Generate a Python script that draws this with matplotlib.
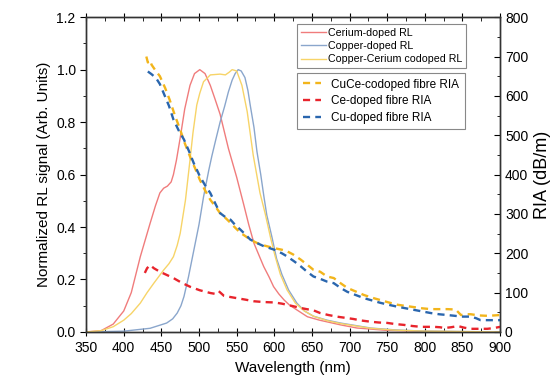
import matplotlib
matplotlib.use("Agg")
import matplotlib.pyplot as plt
from matplotlib.ticker import MultipleLocator

plt.rcParams['font.family'] = ['Liberation Sans', 'DejaVu Sans']

# ---- RL spectra (normalized) ----
ce_rl_wl = [350, 370, 386, 400, 410, 422, 435, 442, 448, 453, 458, 463, 466, 470, 475, 481, 488,
            494, 501, 508, 515, 521, 528, 539, 550, 559, 566, 573, 580, 586, 593, 599, 606,
            613, 620, 630, 644, 660, 688, 710, 750, 800, 900]
ce_rl = [0.0, 0.005, 0.03, 0.08, 0.15, 0.287, 0.414, 0.48, 0.53, 0.548, 0.556, 0.572, 0.6, 0.655, 0.74, 0.85, 0.94,
         0.985, 1.0, 0.985, 0.94, 0.89, 0.83, 0.70, 0.59, 0.49, 0.41, 0.338, 0.29, 0.249, 0.21, 0.173, 0.145,
         0.122, 0.103, 0.084, 0.058, 0.045, 0.027, 0.015, 0.006, 0.002, 0.0]

cu_rl_wl = [350, 400, 435, 457, 465, 471, 476, 480, 486, 493, 500, 506, 513, 517, 522, 528, 534,
            539, 544, 548, 552, 556, 561, 565, 568, 573, 577, 582, 586, 590, 597, 603, 610, 619,
            630, 640, 652, 670, 688, 728, 760, 800, 900]
cu_rl = [0.0, 0.003, 0.014, 0.034, 0.05, 0.072, 0.1, 0.135, 0.21, 0.31, 0.41, 0.515, 0.617, 0.67, 0.73, 0.80, 0.86,
         0.915, 0.96, 0.985, 1.0, 0.995, 0.97, 0.92, 0.865, 0.78, 0.687, 0.6, 0.52, 0.446, 0.36, 0.28, 0.22, 0.16,
         0.11, 0.08, 0.06, 0.045, 0.034, 0.015, 0.008, 0.003, 0.0]

cuce_rl_wl = [350, 370, 386, 400, 410, 422, 431, 440, 453, 460, 466, 471, 475, 482, 488, 492,
              497, 501, 506, 515, 528, 535, 540, 544, 550, 557, 564, 572, 581, 588, 595, 601,
              608, 617, 628, 640, 652, 670, 688, 728, 760, 800, 900]
cuce_rl = [0.0, 0.005, 0.02, 0.045, 0.07, 0.11, 0.15, 0.186, 0.236, 0.26, 0.287, 0.33, 0.376, 0.503, 0.655, 0.76,
           0.865, 0.91, 0.954, 0.98, 0.983, 0.98, 0.99, 1.0, 0.995, 0.94, 0.84, 0.674, 0.53, 0.45, 0.36, 0.29,
           0.22, 0.16, 0.11, 0.08, 0.06, 0.043, 0.032, 0.014, 0.007, 0.003, 0.0]

# ---- RIA spectra (dB/m) ----
cuce_ria_wl = [430, 432, 435, 437, 442, 448, 455, 461, 468, 475, 481, 488, 495, 501, 508, 515, 522,
               528, 535, 542, 548, 555, 562, 568, 575, 582, 590, 600, 610, 617, 625, 635, 643, 652,
               661, 670, 679, 688, 697, 708, 719, 730, 741, 752, 764, 775, 786, 797, 808, 819, 830,
               841, 848, 855, 861, 872, 883, 892, 900]
cuce_ria = [700, 685, 690, 679, 665, 650, 620, 590, 550, 514, 480, 446, 415, 387, 360, 336, 318,
            302, 290, 277, 265, 252, 243, 235, 228, 222, 218, 213, 209, 205, 197, 184, 172, 158,
            153, 141, 137, 124, 112, 103, 94, 87, 81, 75, 69, 66, 63, 60, 58, 58, 58,
            57, 43, 45, 45, 42, 41, 42, 43]

ce_ria_wl = [428, 431, 435, 440, 448, 457, 466, 477, 488, 501, 515, 521, 526, 533, 541, 550,
             562, 573, 586, 600, 610, 617, 626, 635, 643, 652, 661, 672, 683, 694, 705, 716, 728,
             739, 750, 761, 772, 784, 795, 803, 812, 820, 826, 835, 844, 852, 861, 872, 883, 892, 900]
ce_ria = [150, 162, 170, 162, 153, 145, 137, 125, 115, 106, 99, 97, 104, 92, 89, 86,
          82, 78, 76, 75, 72, 69, 65, 61, 58, 55, 48, 43, 39, 36, 33, 29, 26,
          24, 23, 20, 18, 15, 13, 13, 13, 12, 10, 12, 15, 11, 8, 8, 8, 10, 13]

cu_ria_wl = [432, 437, 443, 448, 453, 460, 466, 473, 480, 487, 493, 501, 508, 515, 522, 528, 535,
             542, 548, 555, 562, 568, 577, 586, 600, 610, 617, 626, 635, 643, 652, 661, 670, 679,
             688, 697, 708, 719, 730, 741, 752, 764, 775, 786, 797, 808, 819, 830, 840, 848, 861,
             868, 874, 885, 900]
cu_ria = [662, 655, 645, 630, 607, 575, 540, 512, 489, 458, 429, 396, 373, 353, 325, 302, 292,
          285, 272, 260, 247, 235, 226, 218, 209, 200, 192, 180, 167, 154, 141, 135, 128, 124,
          112, 102, 94, 86, 80, 74, 69, 64, 60, 56, 52, 48, 45, 43, 41, 39, 39,
          35, 30, 30, 30]

fig = plt.figure(figsize=(5.52, 3.82), dpi=100)
ax = fig.add_axes([0.156, 0.131, 0.750, 0.824])
ax2 = ax.twinx()

l1, = ax.plot(ce_rl_wl, ce_rl, color='#f07c7c', lw=1.0, label='Cerium-doped RL')
l2, = ax.plot(cu_rl_wl, cu_rl, color='#8aa6cc', lw=1.0, label='Copper-doped RL')
l3, = ax.plot(cuce_rl_wl, cuce_rl, color='#f7d468', lw=1.0, label='Copper-Cerium codoped RL')

dash = (3, 2.2)
d1, = ax2.plot(cuce_ria_wl, cuce_ria, color='#f2b51c', lw=1.7, dashes=dash,
               label='CuCe-codoped fibre RIA')
d2, = ax2.plot(ce_ria_wl, ce_ria, color='#e8242c', lw=1.7, dashes=dash,
               label='Ce-doped fibre RIA')
d3, = ax2.plot(cu_ria_wl, cu_ria, color='#2a66ae', lw=1.7, dashes=dash,
               label='Cu-doped fibre RIA')

ax.set_xlim(350, 900)
ax.set_ylim(0, 1.2)
ax2.set_ylim(0, 800)

ax.xaxis.set_major_locator(MultipleLocator(50))
ax.xaxis.set_minor_locator(MultipleLocator(25))
ax.yaxis.set_major_locator(MultipleLocator(0.2))
ax.yaxis.set_minor_locator(MultipleLocator(0.1))
ax.yaxis.set_major_formatter(plt.FormatStrFormatter('%.1f'))
ax2.yaxis.set_major_locator(MultipleLocator(100))
ax2.yaxis.set_minor_locator(MultipleLocator(50))

ax.tick_params(axis='x', which='major', direction='inout', length=6, top=True, labelsize=10)
ax.tick_params(axis='x', which='minor', direction='in', length=3, top=True)
ax.tick_params(axis='y', which='major', direction='out', length=4, labelsize=10)
ax.tick_params(axis='y', which='minor', direction='out', length=2.5)
ax2.tick_params(axis='y', which='major', direction='in', length=4, labelsize=10)
ax2.tick_params(axis='y', which='minor', direction='in', length=2.5)

for a in (ax, ax2):
    for s in a.spines.values():
        s.set_color('#333333')
        s.set_linewidth(1.0)

ax.set_xlabel('Wavelength (nm)', fontsize=11)
ax.set_ylabel('Normalized RL signal (Arb. Units)', fontsize=11)
ax2.set_ylabel('RIA (dB/m)', fontsize=13, labelpad=4)

leg1 = ax2.legend(handles=[l1, l2, l3], loc='upper left', bbox_to_anchor=(0.51, 0.978),
                  fontsize=7.7, fancybox=False, edgecolor='#888888', framealpha=1,
                  handlelength=2.3, handletextpad=0.2, borderpad=0.35, labelspacing=0.3,
                  borderaxespad=0)
leg1.get_frame().set_linewidth(0.8)
ax2.add_artist(leg1)
leg2 = ax2.legend(handles=[d1, d2, d3], loc='upper left', bbox_to_anchor=(0.51, 0.822),
                  fontsize=8.5, fancybox=False, edgecolor='#888888', framealpha=1,
                  handlelength=1.6, handletextpad=0.85, borderpad=0.45, labelspacing=0.4,
                  borderaxespad=0)
leg2.get_frame().set_linewidth(0.8)

fig.savefig('out.png', dpi=100)
